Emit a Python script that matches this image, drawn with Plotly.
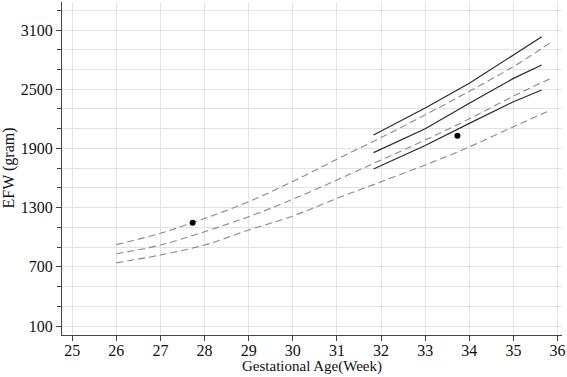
import plotly.graph_objects as go

# Reference (dashed) curves
ref_weeks = [26, 27, 28, 29, 30, 31, 32, 33, 34, 35, 35.85]
ref_upper = [925, 1040, 1190, 1360, 1565, 1790, 2010, 2240, 2480, 2730, 2975]
ref_middle = [832, 921, 1056, 1208, 1385, 1580, 1782, 1985, 2200, 2430, 2610]
ref_lower = [740, 820, 921, 1073, 1215, 1394, 1562, 1732, 1915, 2120, 2289]

# Predicted (solid) lines
pred_weeks = [31.83, 33, 34, 35, 35.64]
pred_upper = [2036, 2310, 2560, 2847, 3032]
pred_middle = [1857, 2100, 2357, 2610, 2745]
pred_lower = [1691, 1930, 2154, 2373, 2492]

# Observed points
obs_weeks = [27.73, 33.73]
obs_efw = [1147, 2029]

x_ticks = list(range(25, 37))
y_ticks = [100, 700, 1300, 1900, 2500, 3100]

fig = go.Figure()
for ys in (ref_upper, ref_middle, ref_lower):
    fig.add_trace(go.Scatter(x=ref_weeks, y=ys, mode="lines", line_shape="spline",
                             line=dict(color="#8a8a8a", width=1.1, dash="7px,4px"),
                             showlegend=False, hoverinfo="skip"))
for ys in (pred_upper, pred_middle, pred_lower):
    fig.add_trace(go.Scatter(x=pred_weeks, y=ys, mode="lines",
                             line=dict(color="#2a2a2a", width=1.2),
                             showlegend=False, hoverinfo="skip"))
fig.add_trace(go.Scatter(x=obs_weeks, y=obs_efw, mode="markers",
                         marker=dict(color="black", size=6),
                         showlegend=False))

serif = "Liberation Serif"
fig.update_layout(
    width=567, height=377,
    margin=dict(l=62, r=5, t=2, b=42),
    paper_bgcolor="white", plot_bgcolor="white",
    font=dict(family=serif, size=16, color="#111"),
    annotations=[
        dict(text="Gestational Age(Week)", xref="paper", yref="paper",
             x=0.5, y=0, xanchor="center", yanchor="bottom", yshift=-41,
             borderpad=0, showarrow=False,
             font=dict(family=serif, size=15, color="#111")),
        dict(text="EFW (gram)", xref="paper", yref="paper", textangle=-90,
             x=0, y=0.5, xanchor="center", yanchor="middle", xshift=-54,
             showarrow=False, font=dict(family=serif, size=16, color="#111")),
    ],
)
fig.update_xaxes(
    range=[24.77, 36.1], tickvals=x_ticks, ticktext=[str(v) for v in x_ticks],
    showgrid=True, gridcolor="#e3e3e3", gridwidth=1,
    showline=True, linecolor="#444", linewidth=1.2,
    ticks="outside", ticklen=5, tickcolor="#444", ticklabelstandoff=-4,
    tickfont=dict(family=serif, size=16, color="#111"),
    automargin=False, zeroline=False,
)
fig.update_yaxes(
    range=[9, 3384], tickvals=y_ticks, ticktext=[str(v) for v in y_ticks],
    showgrid=True, gridcolor="#e3e3e3", gridwidth=1,
    showline=True, linecolor="#444", linewidth=1.2,
    ticks="outside", ticklen=5, tickcolor="#444",
    minor=dict(tick0=100, dtick=200, ticks="outside", ticklen=4, tickcolor="#444",
               showgrid=True, gridcolor="#e3e3e3", gridwidth=1),
    tickfont=dict(family=serif, size=16, color="#111"),
    automargin=False, zeroline=False,
)
fig.write_html(
    "out.html",
    config={"displayModeBar": False},
    post_script="document.body.style.margin='0';document.body.style.padding='0';",
)
